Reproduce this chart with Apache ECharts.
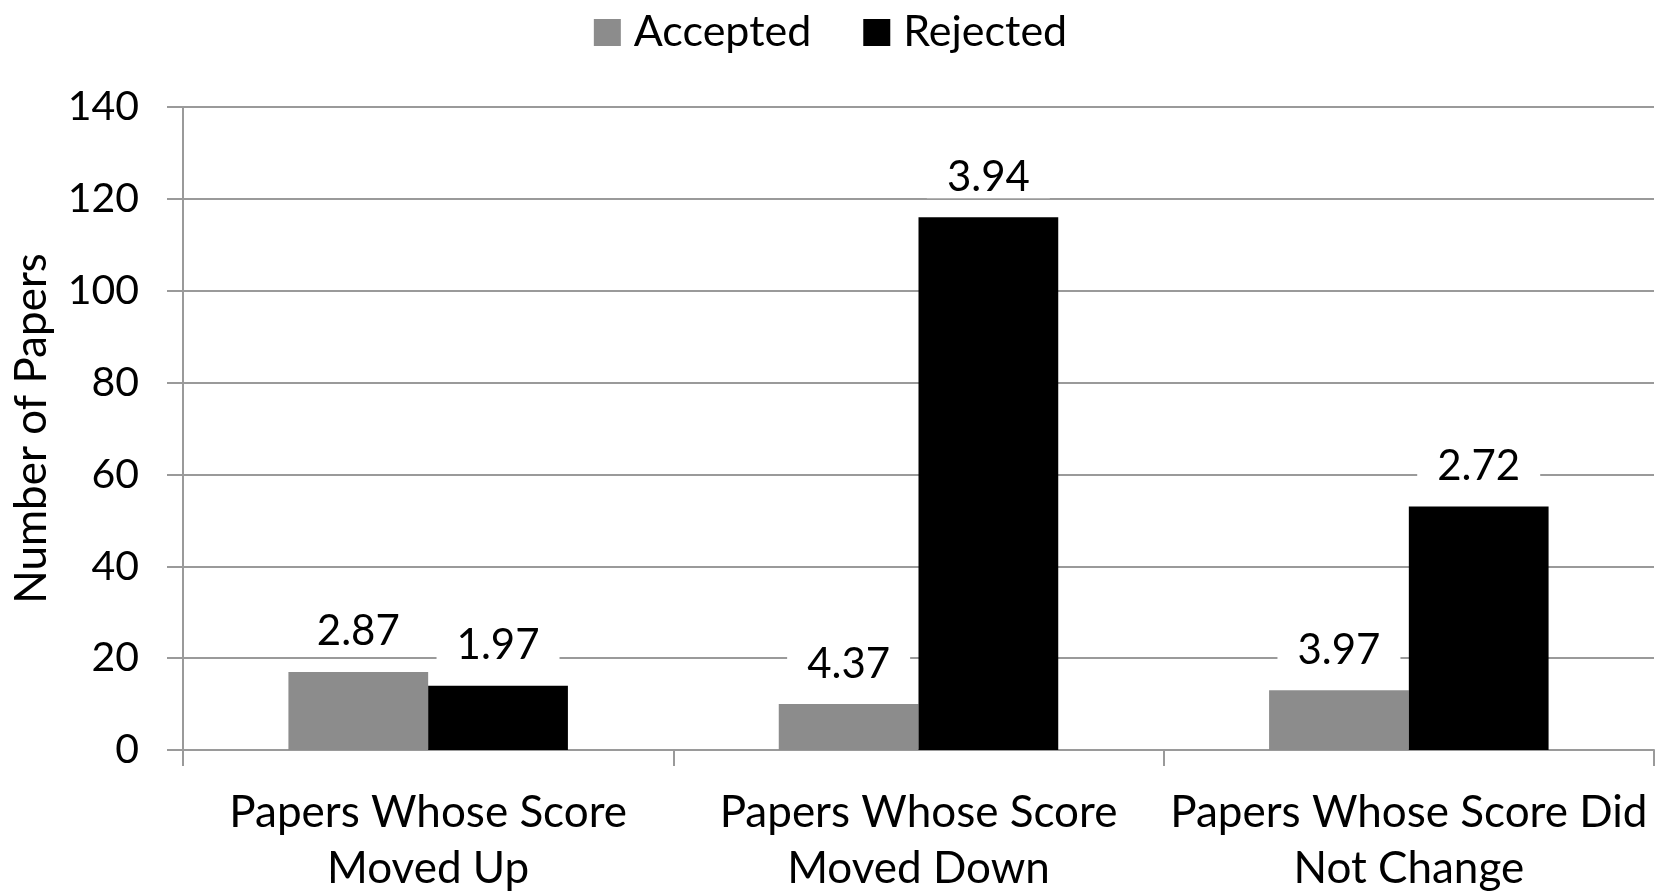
<!DOCTYPE html>
<html>
<head>
<meta charset="utf-8">
<script src="https://cdn.jsdelivr.net/npm/echarts@6/dist/echarts.min.js"></script>
<style>
  html, body { margin: 0; padding: 0; background: #fff; }
  #main { width: 1661px; height: 892px; }
</style>
</head>
<body>
<div id="main"></div>
<script>
// categories and values
const categories = [
  'Papers Whose Score\nMoved Up',
  'Papers Whose Score\nMoved Down',
  'Papers Whose Score Did\nNot Change'
]
const acceptedCounts = [17, 10, 13]
const rejectedCounts = [14, 116, 53]
// numbers printed above the bars
const acceptedLabels = ['2.87', '4.37', '3.97']
const rejectedLabels = ['1.97', '3.94', '2.72']
const yTicks = [0, 20, 40, 60, 80, 100, 120, 140]

const font = 'Lato, "Open Sans", sans-serif'
const chart = echarts.init(document.getElementById('main'))

const labelStyle = (texts) => ({
  show: true,
  position: 'top',
  distance: 19,
  formatter: (p) => texts[p.dataIndex],
  color: '#000',
  fontFamily: font,
  fontSize: 42,
  backgroundColor: '#fff',
  padding: [0, 20]
})

chart.setOption({
  animation: false,
  textStyle: { fontFamily: font },
  legend: {
    top: 6,
    left: 'center',
    itemWidth: 27,
    itemHeight: 27,
    itemGap: 52,
    icon: 'rect',
    padding: [5, 20, 5, 5],
    textStyle: { fontSize: 43, color: '#000', fontFamily: font, padding: [0, 0, 0, 8] }
  },
  grid: { left: 183, right: 7, top: 107, bottom: 142, outerBoundsMode: 'none' },
  xAxis: {
    type: 'category',
    data: categories,
    axisLine: { lineStyle: { color: '#9a9a9a', width: 2 } },
    axisTick: { show: true, length: 16, lineStyle: { color: '#9a9a9a', width: 2 } },
    axisLabel: { fontSize: 44, color: '#000', lineHeight: 56, margin: 35, interval: 0 }
  },
  yAxis: {
    type: 'value',
    min: yTicks[0],
    max: yTicks[yTicks.length - 1],
    interval: 20,
    name: 'Number of Papers',
    nameLocation: 'middle',
    nameGap: 129,
    nameTextStyle: { fontSize: 44, color: '#000', fontFamily: font },
    axisLine: { show: true, lineStyle: { color: '#9a9a9a', width: 2 } },
    axisTick: { show: true, length: 16, lineStyle: { color: '#9a9a9a', width: 2 } },
    axisLabel: { fontSize: 41, color: '#000', margin: 44 },
    splitLine: { lineStyle: { color: '#9a9a9a', width: 2 } }
  },
  series: [
    {
      name: 'Accepted',
      type: 'bar',
      data: acceptedCounts,
      barGap: '0%',
      barCategoryGap: '43%',
      itemStyle: { color: '#8c8c8c' },
      label: labelStyle(acceptedLabels)
    },
    {
      name: 'Rejected',
      type: 'bar',
      data: rejectedCounts,
      itemStyle: { color: '#000' },
      label: labelStyle(rejectedLabels)
    }
  ]
})
</script>
</body>
</html>
